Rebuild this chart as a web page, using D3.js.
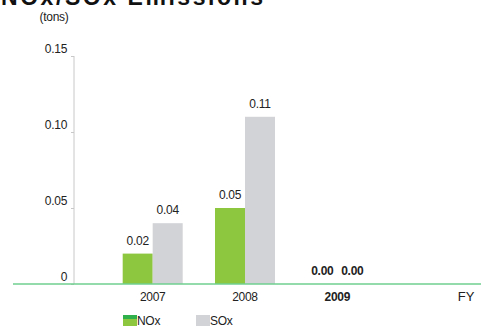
<!DOCTYPE html>
<html>
<head>
<meta charset="utf-8">
<script src="https://cdn.jsdelivr.net/npm/d3@7"></script>
<style>
  body { margin: 0; background: #fff; }
  svg { display: block; font-family: "Liberation Sans", Arial, sans-serif; }
</style>
</head>
<body>
<div id="chart"></div>
<script>
const years = ["2007", "2008", "2009"];
const noxValues = [0.02, 0.05, 0.00];
const soxValues = [0.04, 0.11, 0.00];
const yTicks = [0, 0.05, 0.10, 0.15];
const seriesNames = ["NOx", "SOx"];

const width = 481, height = 329;
const colorNox = "#8dc63f", colorSox = "#d2d3d6", colorBase = "#6fcf8f";
const textColor = "#222";

const svg = d3.select("#chart").append("svg")
  .attr("width", width)
  .attr("height", height);

// title (top is cut off in the original)
svg.append("text")
  .attr("x", 1)
  .attr("y", 5)
  .attr("font-weight", "bold")
  .attr("font-size", 23)
  .attr("textLength", 262)
  .attr("fill", "#111")
  .text("NOx/SOx Emissions");

svg.append("text")
  .attr("x", 54)
  .attr("y", 21)
  .attr("text-anchor", "middle")
  .attr("font-size", 12)
  .attr("letter-spacing", "-0.3")
  .attr("fill", textColor)
  .text("(tons)");

const y = d3.scaleLinear()
  .domain([0, 0.15])
  .range([284, 56]);

const x = d3.scaleBand()
  .domain(years)
  .range([107, 383])
  .paddingInner(0.35)
  .paddingOuter(0.17);

const xs = d3.scaleBand()
  .domain(seriesNames)
  .range([0, x.bandwidth()]);

// y axis
const yAxis = svg.append("g")
  .attr("transform", "translate(74,0)")
  .call(d3.axisLeft(y)
    .tickValues(yTicks)
    .tickSize(3)
    .tickPadding(4)
    .tickFormat(d => d === 0 ? "0" : d3.format(".2f")(d)));
yAxis.select(".domain").attr("stroke", "#c8c8c8").attr("d", `M0,${y(0)}V${y(0.15)}`);
yAxis.selectAll(".tick line").attr("stroke", "#c8c8c8");
yAxis.selectAll(".tick text")
  .attr("y", -7)
  .attr("font-size", 12)
  .attr("letter-spacing", "-0.3")
  .attr("fill", textColor);

const series = [
  { name: "NOx", values: noxValues, color: colorNox },
  { name: "SOx", values: soxValues, color: colorSox }
];

series.forEach(s => {
  svg.selectAll(`.bar-${s.name}`)
    .data(years)
    .enter()
    .append("rect")
    .attr("x", (d) => x(d) + xs(s.name))
    .attr("width", xs.bandwidth())
    .attr("y", (d, i) => y(s.values[i]))
    .attr("height", (d, i) => y(0) - y(s.values[i]))
    .attr("fill", s.color);

  svg.selectAll(`.lbl-${s.name}`)
    .data(years)
    .enter()
    .append("text")
    .attr("x", d => x(d) + xs(s.name) + xs.bandwidth() / 2)
    .attr("y", (d, i) => y(s.values[i]) - 9)
    .attr("text-anchor", "middle")
    .attr("font-size", 12)
    .attr("letter-spacing", "-0.3")
    .attr("font-weight", (d, i) => s.values[i] === 0 ? "bold" : "normal")
    .attr("fill", textColor)
    .text((d, i) => s.values[i].toFixed(2));
});

// baseline
svg.append("line")
  .attr("x1", 13).attr("x2", width)
  .attr("y1", y(0)).attr("y2", y(0))
  .attr("stroke", colorBase)
  .attr("stroke-width", 1.5);

// x labels
svg.selectAll(".xlbl")
  .data(years)
  .enter()
  .append("text")
  .attr("x", d => x(d) + x.bandwidth() / 2)
  .attr("y", 301)
  .attr("text-anchor", "middle")
  .attr("font-size", 12)
  .attr("letter-spacing", "-0.3")
  .attr("font-weight", d => d === "2009" ? "bold" : "normal")
  .attr("fill", textColor)
  .text(d => d);

svg.append("text")
  .attr("x", 466)
  .attr("y", 301)
  .attr("text-anchor", "middle")
  .attr("font-size", 13)
  .attr("fill", textColor)
  .text("FY");

// legend
const legend = svg.append("g").attr("transform", "translate(123,315)");
const li = legend.selectAll("g")
  .data(series)
  .enter()
  .append("g")
  .attr("transform", (d, i) => `translate(${i * 73},0)`);
li.append("rect")
  .attr("width", 14).attr("height", 11)
  .attr("fill", d => d.color);
li.filter(d => d.name === "NOx").append("rect")
  .attr("width", 14).attr("height", 4)
  .attr("fill", "#2fb04a");
li.append("text")
  .attr("x", 14)
  .attr("y", 10)
  .attr("font-size", 12)
  .attr("letter-spacing", "-0.3")
  .attr("fill", textColor)
  .text(d => d.name);
</script>
</body>
</html>
